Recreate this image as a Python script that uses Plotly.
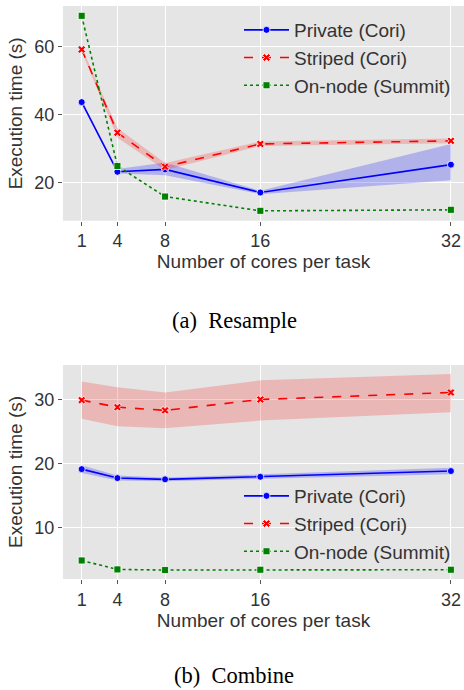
import plotly.graph_objects as go

cores = [1, 4, 8, 16, 32]
tick_labels = ["1", "4", "8", "16", "32"]

# (a) Resample
res_private = [43.7, 23.2, 23.9, 17.1, 25.3]
res_private_lo = [43.3, 22.7, 22.2, 16.6, 20.7]
res_private_hi = [44.1, 24.0, 25.9, 17.6, 31.4]
res_striped = [59.2, 34.7, 24.7, 31.4, 32.3]
res_striped_lo = [58.6, 33.2, 23.7, 30.8, 31.6]
res_striped_hi = [59.8, 36.1, 25.8, 32.1, 33.0]
res_onnode = [69.1, 24.9, 15.9, 11.7, 12.0]

# (b) Combine
com_private = [19.1, 17.7, 17.5, 17.9, 18.8]
com_private_lo = [18.5, 17.3, 17.2, 17.5, 18.3]
com_private_hi = [19.7, 18.1, 17.8, 18.3, 19.3]
com_striped = [29.9, 28.8, 28.3, 30.0, 31.1]
com_striped_lo = [27.0, 25.8, 25.5, 26.7, 28.0]
com_striped_hi = [32.8, 31.9, 31.1, 33.0, 34.0]
com_onnode = [4.8, 3.4, 3.3, 3.35, 3.35]

series_names = ["Private (Cori)", "Striped (Cori)", "On-node (Summit)"]
colors = ["blue", "red", "green"]
fills = ["rgba(0,0,255,0.22)", "rgba(255,0,0,0.2)"]
dashes = ["solid", "dash", "dot"]
symbols = ["circle", "x", "square"]

FONT = "Liberation Sans, Arial, sans-serif"
fig = go.Figure()


def add_panel(xa, ya, legend, means, los, his):
    for i, (m, lo, hi) in enumerate(zip(means, los, his)):
        if lo is not None:
            fig.add_trace(go.Scatter(
                x=cores + cores[::-1], y=hi + lo[::-1], fill="toself",
                fillcolor=fills[i], line=dict(width=0), mode="lines",
                hoverinfo="skip", showlegend=False, xaxis=xa, yaxis=ya))
        fig.add_trace(go.Scatter(
            x=cores, y=m, name=series_names[i], mode="lines+markers",
            line=dict(color=colors[i], width=1.6, dash=dashes[i]),
            marker=dict(symbol=symbols[i], size=7,
                        color=colors[i], line=dict(color="white", width=0.8)),
            xaxis=xa, yaxis=ya, legend=legend))


add_panel("x", "y", "legend",
          [res_private, res_striped, res_onnode],
          [res_private_lo, res_striped_lo, None],
          [res_private_hi, res_striped_hi, None])
add_panel("x2", "y2", "legend2",
          [com_private, com_striped, com_onnode],
          [com_private_lo, com_striped_lo, None],
          [com_private_hi, com_striped_hi, None])

W, H = 464, 690
xdom = [63 / W, 1.0]
ax_common = dict(
    showgrid=True, gridcolor="white", gridwidth=1.2, zeroline=False,
    ticks="outside", ticklen=4, tickcolor="#555555", tickwidth=1,
    tickfont=dict(family=FONT, size=18, color="#333333"),
    showline=False, automargin=False,
)
xcommon = dict(ax_common, tickvals=cores, ticktext=tick_labels,
               range=[-0.57, 33.1],
               title=dict(text="Number of cores per task",
                          font=dict(family=FONT, size=19, color="#333333"),
                          standoff=2))
ycommon = dict(ax_common,
               title=dict(text="Execution time (s)",
                          font=dict(family=FONT, size=19, color="#333333"),
                          standoff=6))

legend_common = dict(
    bgcolor="rgba(0,0,0,0)", borderwidth=0,
    font=dict(family=FONT, size=19, color="#333333"),
    xanchor="left", yanchor="top", x=239 / W, tracegroupgap=0,
    itemwidth=45,
)

fig.update_layout(
    width=W, height=H, margin=dict(l=0, r=0, t=0, b=0),
    paper_bgcolor="white", plot_bgcolor="#E5E5E5",
    xaxis=dict(xcommon, domain=xdom, anchor="y"),
    yaxis=dict(ycommon, domain=[1 - 220.7 / H, 1 - 6 / H], anchor="x",
               range=[8.8, 72], tickvals=[20, 40, 60]),
    xaxis2=dict(xcommon, domain=xdom, anchor="y2"),
    yaxis2=dict(ycommon, domain=[1 - 579 / H, 1 - 365 / H], anchor="x2",
                range=[1.9, 35.4], tickvals=[10, 20, 30]),
    legend=dict(legend_common, y=1 - 11 / H),
    legend2=dict(legend_common, y=1 - 477 / H),
    showlegend=True,
    annotations=[
        dict(text="(a)  Resample", x=234 / W, y=1 - 320 / H, xref="paper",
             yref="paper", showarrow=False, xanchor="center", yanchor="middle",
             font=dict(family="Liberation Serif, Times New Roman, serif",
                       size=22.5, color="black")),
        dict(text="(b)  Combine", x=234 / W, y=1 - 675 / H, xref="paper",
             yref="paper", showarrow=False, xanchor="center", yanchor="middle",
             font=dict(family="Liberation Serif, Times New Roman, serif",
                       size=22.5, color="black")),
    ],
)

fig.write_html("out.html",
               config={"displayModeBar": False},
               post_script="document.body.style.margin='0px';"
                           "document.body.style.overflow='hidden';")
